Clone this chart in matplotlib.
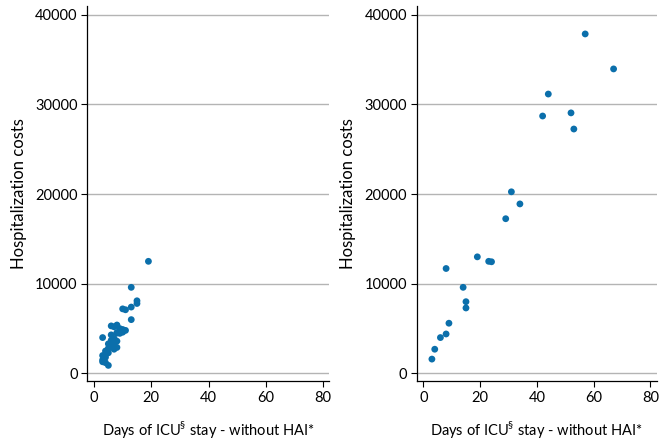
import matplotlib.pyplot as plt

plt.rcParams['font.family'] = ['Lato', 'DejaVu Sans']
plt.rcParams['mathtext.fontset'] = 'custom'
plt.rcParams['mathtext.rm'] = 'Lato'

# left panel: ICU stay without HAI (group 1)
days_a = [3, 6, 7, 6, 7, 8, 7, 6, 7, 8, 5, 4, 5, 3, 4, 3, 4, 5, 3, 9,
          9, 10, 10, 8, 11, 10, 11, 13, 13, 13, 15, 15, 19, 6, 7, 5, 4, 8, 8, 9]
cost_a = [4000, 5300, 5200, 4300, 3900, 3600, 3400, 3200, 3000, 2900,
          2800, 2500, 2300, 2000, 1800, 1500, 1200, 900, 1300, 5000,
          4700, 4600, 4900, 4500, 4800, 7200, 7100, 7400, 6000, 9600,
          8100, 7800, 12500, 3700, 2700, 3300, 2100, 5400, 4550, 4470]

# right panel: group 2
days_b = [3, 4, 6, 8, 9, 8, 14, 15, 15, 19, 23, 24, 29, 31, 34, 42, 44, 52, 53, 57, 67]
cost_b = [1600, 2700, 4000, 4400, 5600, 11700, 9600, 8000, 7300, 13000,
          12500, 12450, 17250, 20250, 18900, 28700, 31150, 29050, 27250, 37850, 33950]

xticks = [0, 20, 40, 60, 80]
yticks = [0, 10000, 20000, 30000, 40000]
dot_color = '#0b6fab'

fig = plt.figure(figsize=(6.66, 4.41), dpi=100)
ax1 = fig.add_axes([0.1311, 0.1361, 0.3634, 0.851])
ax2 = fig.add_axes([0.6257, 0.1361, 0.3604, 0.851])

for ax, xs, ys in [(ax1, days_a, cost_a), (ax2, days_b, cost_b)]:
    ax.scatter(xs, ys, s=24, color=dot_color, edgecolors='none', zorder=3)
    ax.set_xlim(-2.35, 82.2)
    ax.set_ylim(-840, 41000)
    ax.set_xticks(xticks)
    ax.set_yticks(yticks)
    ax.grid(axis='y', color='#b4b4b4', linewidth=1.0)
    ax.set_axisbelow(True)
    for side in ['top', 'right']:
        ax.spines[side].set_visible(False)
    for side in ['left', 'bottom']:
        ax.spines[side].set_linewidth(0.9)
    ax.tick_params(direction='out', length=4, width=0.8, labelsize=10.5, pad=3)
    ax.set_ylabel('Hospitalization costs', fontsize=12, labelpad=6)
    ax.set_xlabel('Days of ICU$^{\\mathrm{\u00a7}}$ stay - without HAI*', fontsize=10.5, labelpad=10)

fig.savefig('out.png', dpi=100)
